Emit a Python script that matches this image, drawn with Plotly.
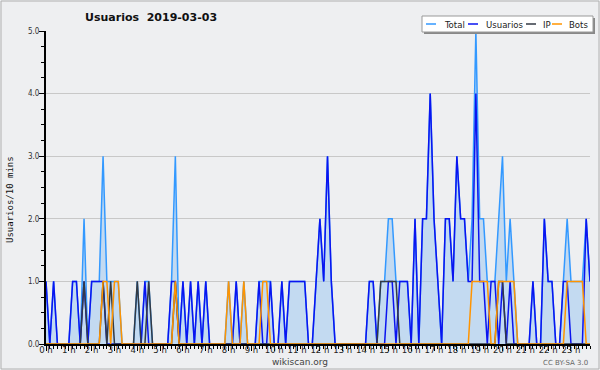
import plotly.graph_objects as go

hour_labels = [f"{h} h" for h in range(24)]

# 10-minute slots, 6 per hour
usuarios = [
    1,0,1,0,0,0,  0,1,1,0,1,0,  1,1,1,1,0,0,  0,0,0,0,0,0,
    0,0,1,0,0,0,  0,0,0,1,1,0,  1,0,1,0,1,0,  1,0,0,0,0,0,
    0,0,1,0,0,0,  0,0,1,0,0,1,  0,0,1,0,1,1,  1,1,1,0,0,1,
    2,1,3,1,0,0,  0,0,0,0,0,0,  0,1,1,0,0,0,  1,1,0,1,1,1,
    0,2,0,2,2,4,  2,1,0,2,2,1,  3,2,2,1,1,4,  1,1,0,1,1,0,
    1,0,1,0,0,0,  0,0,1,0,0,2,  1,1,0,0,1,1,  0,0,0,0,2,1,
]
ip = [
    0,0,0,0,0,0,  0,0,0,0,1,0,  0,0,0,1,0,1,  0,0,0,0,0,0,
    1,0,0,1,0,0,  0,0,0,0,1,0,  0,0,0,0,0,0,  0,0,0,0,0,0,
    0,0,0,0,0,0,  0,0,0,0,0,0,  0,0,0,0,0,0,  0,0,0,0,0,0,
    0,0,0,0,0,0,  0,0,0,0,0,0,  0,0,0,0,1,1,  1,1,1,0,0,0,
    0,0,0,0,0,0,  0,0,0,0,0,0,  0,0,0,0,0,0,  0,0,0,0,0,1,
    1,0,0,0,0,0,  0,0,0,0,0,0,  0,0,0,0,0,0,  0,0,0,0,0,0,
]
bots = [
    0,0,0,0,0,0,  0,0,0,0,0,0,  0,0,0,1,1,0,  1,1,0,0,0,0,
    0,0,0,0,0,0,  0,0,0,0,1,0,  0,0,0,0,0,0,  0,0,0,0,0,0,
    1,0,0,0,1,0,  0,0,0,1,1,0,  0,0,0,0,0,0,  0,0,0,0,0,0,
    0,0,0,0,0,0,  0,0,0,0,0,0,  0,0,0,0,0,0,  0,0,0,0,0,0,
    0,0,0,0,0,0,  0,0,0,0,0,0,  0,0,0,0,1,1,  1,1,1,0,0,1,
    1,1,1,1,0,0,  0,0,0,0,0,0,  0,0,0,0,0,1,  1,1,1,1,0,0,
]
total = [
    1,0,1,0,0,0,  0,1,1,0,2,0,  1,1,1,3,1,1,  1,1,0,0,0,0,
    1,0,1,1,0,0,  0,0,0,1,3,0,  1,0,1,0,1,0,  1,0,0,0,0,0,
    1,0,1,0,1,0,  0,0,1,1,1,1,  0,0,1,0,1,1,  1,1,1,0,0,1,
    2,1,3,1,0,0,  0,0,0,0,0,0,  0,1,1,0,1,1,  2,2,1,1,1,1,
    0,2,0,2,2,4,  2,1,0,2,2,1,  3,2,2,1,2,5,  2,2,1,1,1,2,
    3,1,2,1,0,0,  0,0,1,0,0,2,  1,1,0,0,1,2,  1,1,1,1,2,1,
]
slots = list(range(len(total)))
hour_ticks = list(range(0, len(total), 6))

series_names = ["Total", "Usuarios", "IP", "Bots"]
series_colors = ["#3399ff", "#0a14f0", "#333a44", "#ff9400"]

FONT = "DejaVu Sans"
NARROW = "DejaVu Sans Condensed, Liberation Sans Narrow, Liberation Sans"
fig = go.Figure()
fig.add_trace(go.Scatter(x=slots, y=total, mode="lines", name="Total",
                         line=dict(color=series_colors[0], width=1.5),
                         fill="tozeroy", fillcolor="rgba(160,200,240,0.55)"))
fig.add_trace(go.Scatter(x=slots, y=usuarios, mode="lines", name="Usuarios",
                         line=dict(color=series_colors[1], width=1.5)))
fig.add_trace(go.Scatter(x=slots, y=ip, mode="lines", name="IP",
                         line=dict(color=series_colors[2], width=1.5)))
fig.add_trace(go.Scatter(x=slots, y=bots, mode="lines", name="Bots",
                         line=dict(color=series_colors[3], width=1.5)))

L, R, T, B = 46, 10, 31, 26
W, H = 600, 370
pw, ph = W - L - R, H - T - B
def px(xp):
    return (xp - L) / pw
def py(yp):
    return (H - B - yp) / ph

fig.update_layout(
    width=W, height=H,
    margin=dict(l=L, r=R, t=T, b=B, autoexpand=False),
    paper_bgcolor="#eeeff1", plot_bgcolor="#eeeff1",
    showlegend=False,
    font=dict(family=FONT, size=9, color="#222"),
    title=dict(text="<b>Usuarios  2019-03-03</b>", x=85 / W, xanchor="left",
               y=1 - 17 / H, yanchor="middle",
               font=dict(family=FONT, size=11, color="#111")),
    xaxis=dict(range=[0, len(total) - 1], tickmode="array", tickvals=hour_ticks,
               ticktext=hour_labels, ticks="outside", ticklen=5, tickwidth=1,
               tickcolor="#000", showgrid=False, zeroline=False,
               showline=True, linecolor="#000", linewidth=2,
               ticklabelstandoff=-9,
               minor=dict(dtick=1, ticklen=3, tickcolor="#000", showgrid=False),
               tickfont=dict(size=9.5, family=NARROW, color="#222")),
    yaxis=dict(range=[0, 5], dtick=1, tickformat=".1f", ticks="outside", ticklen=5,
               tickcolor="#000", showgrid=True, gridcolor="#c8c8c8", gridwidth=1,
               zeroline=False, showline=True, linecolor="#000", linewidth=2,
               ticklabelstandoff=-2,
               minor=dict(dtick=0.25, ticklen=3, tickcolor="#000", showgrid=False),
               tickfont=dict(size=8, family=NARROW, color="#333")),
)

fig.add_annotation(xref="paper", yref="paper", x=px(10), y=py(200), text="Usuarios/10 mins",
                   textangle=-90, showarrow=False, xanchor="center", yanchor="middle",
                   font=dict(family="DejaVu Sans Mono", size=9, color="#111"))

# compact legend box
shapes = [
    dict(type="rect", xref="paper", yref="paper", x0=px(424), x1=px(595),
         y0=py(34), y1=py(18), fillcolor="#888", line=dict(width=0), layer="above"),
    dict(type="rect", xref="paper", yref="paper", x0=px(422), x1=px(593),
         y0=py(32), y1=py(16), fillcolor="#ffffff", line=dict(color="#999", width=1),
         layer="above"),
    dict(type="rect", xref="paper", yref="paper", x0=px(1), x1=px(599),
         y0=py(369), y1=py(1), line=dict(color="#b0b0b0", width=1), layer="below"),
]
sample_x = [426, 468, 526, 552]
text_x = [442, 484, 541, 567]
for name, col, sx, tx in zip(series_names, series_colors, sample_x, text_x):
    shapes.append(dict(type="line", xref="paper", yref="paper", x0=px(sx), x1=px(sx + 10),
                       y0=py(24), y1=py(24), line=dict(color=col, width=1.5), layer="above"))
    fig.add_annotation(xref="paper", yref="paper", x=px(tx), y=py(24), text=name,
                       showarrow=False, xanchor="left", yanchor="middle",
                       font=dict(family=NARROW, size=9.5, color="#222"))
fig.update_layout(shapes=shapes)

fig.add_annotation(xref="paper", yref="paper", x=px(300), y=py(362), text="wikiscan.org",
                   showarrow=False, xanchor="center", yanchor="middle",
                   font=dict(family=FONT, size=9, color="#444"))
fig.add_annotation(xref="paper", yref="paper", x=px(590), y=py(363), text="CC BY-SA 3.0",
                   showarrow=False, xanchor="right", yanchor="middle",
                   font=dict(family=FONT, size=7, color="#666"))

fig.write_html("out.html", config={"displayModeBar": False},
               post_script="document.body.style.margin='0px';")
